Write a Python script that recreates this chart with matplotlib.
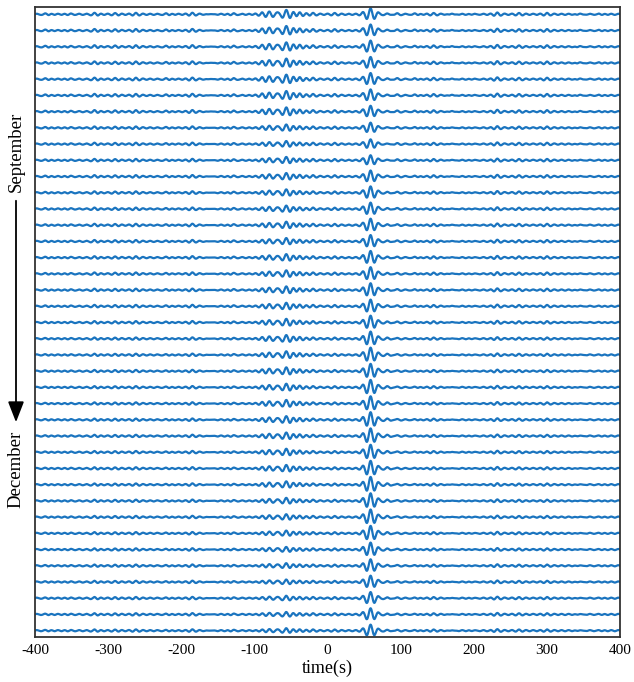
import matplotlib
matplotlib.use('Agg')
import matplotlib.pyplot as plt
import numpy as np

plt.rcParams['font.family'] = ['Liberation Serif', 'DejaVu Serif']

# time axis (s)
t = np.arange(-400, 400.01, 0.5)
xticks = [-400, -300, -200, -100, 0, 100, 200, 300, 400]

# per-trace peak amplitudes (in units of trace spacing), top trace first
causal_amp = [0.34, 0.34, 0.35, 0.34, 0.35, 0.34, 0.33, 0.29, 0.26, 0.28,
              0.34, 0.36, 0.36, 0.37, 0.36, 0.38, 0.38, 0.39, 0.38, 0.39,
              0.41, 0.42, 0.42, 0.43, 0.42, 0.44, 0.44, 0.43, 0.44, 0.45,
              0.44, 0.44, 0.43, 0.40, 0.37, 0.36, 0.35, 0.35, 0.34]
acausal_amp = [0.28, 0.29, 0.28, 0.28, 0.29, 0.28, 0.27, 0.21, 0.19, 0.21,
               0.22, 0.21, 0.21, 0.22, 0.21, 0.22, 0.22, 0.23, 0.22, 0.23,
               0.23, 0.23, 0.24, 0.23, 0.23, 0.23, 0.22, 0.22, 0.22, 0.21,
               0.19, 0.18, 0.17, 0.16, 0.16, 0.15, 0.15, 0.15, 0.15]
noise_amp = [0.08] * 7 + [0.07] * 13 + [0.06] * 19

# arrival times (s)
causal_t0 = 59.0
acausal_t0 = -56.0
acausal_early_t0 = -80.0

# small background wiggles (time, relative size)
bump_t = [-385, -352, -318, -290, -262, -220, -185, -160, -129, -20,
          10, 95, 120, 145, 170, 200, 232, 262, 300, 345, 372]
bump_a = [0.8, 0.6, 1.0, 0.6, 0.7, 0.9, 0.8, 0.6, 0.9, 0.7,
          0.6, 0.8, 1.0, 0.6, 0.9, 0.6, 1.0, 0.6, 0.7, 0.9, 0.7]


def packet(t, t0, amp, sigma, period):
    return amp * np.exp(-0.5 * ((t - t0) / sigma) ** 2) * np.cos(2 * np.pi * (t - t0) / period)


n = len(causal_amp)

fig = plt.figure(figsize=(6.34, 6.82), dpi=100)
ax = fig.add_axes([0.0552, 0.066, 0.9227, 0.9237])

for i in range(n):
    y0 = n - 1 - i
    w = packet(t, causal_t0, causal_amp[i], 7.0, 11.0)
    w += packet(t, acausal_t0, acausal_amp[i], 8.0, 10.5)
    w += packet(t, acausal_early_t0, 0.6 * acausal_amp[i], 12.0, 10.0)
    w += packet(t, -38.0, 0.35 * acausal_amp[i], 6.0, 10.0)
    w += packet(t, 82.0, 0.25 * causal_amp[i], 8.0, 10.0)
    for bt, ba in zip(bump_t, bump_a):
        w += packet(t, bt, ba * noise_amp[i], 5.0, 10.0)
    w += 0.035 * np.cos(2 * np.pi * t / 9.7)
    ax.plot(t, y0 + w, color='#1a74bf', lw=1.6)

ax.set_xlim(-400, 400)
ax.set_ylim(-0.39, n - 1 + 0.45)
ax.set_xticks(xticks)
ax.set_xticklabels([str(v) for v in xticks], fontsize=11)
ax.set_yticks([])
ax.tick_params(axis='x', length=0, pad=5)
ax.set_xlabel('time(s)', fontsize=13, labelpad=2)
for s in ax.spines.values():
    s.set_color('#333333')
    s.set_linewidth(1.3)

fig.text(16 / 634, 1 - 152 / 682, 'September', rotation=90, fontsize=13.5,
         ha='center', va='center')
fig.text(16 / 634, 1 - 469 / 682, 'December', rotation=90, fontsize=13.5,
         ha='center', va='center')
fig.add_artist(matplotlib.patches.FancyArrowPatch(
    (16 / 634, 1 - 198 / 682), (16 / 634, 1 - 425 / 682),
    transform=fig.transFigure, arrowstyle='-|>,head_length=0.9,head_width=0.35',
    mutation_scale=14, color='black', lw=1.3))

fig.savefig('out.png', dpi=100)
